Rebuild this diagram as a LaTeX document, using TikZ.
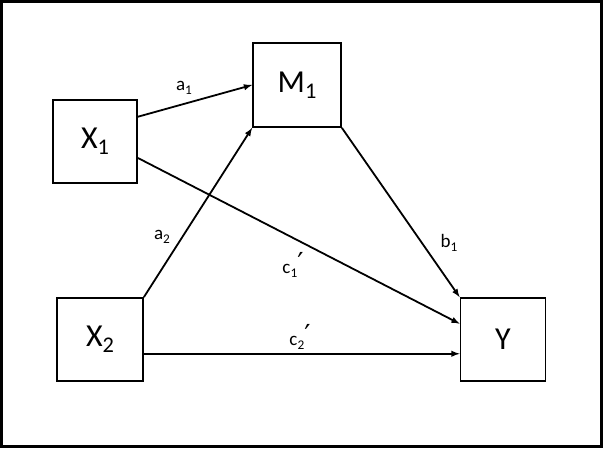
\documentclass[tikz,border=0pt]{standalone}
\usepackage{fontspec}
\setmainfont{Carlito}
\newfontfamily\primefont{DejaVu Sans}
\usepackage{tikz}
\newcommand{\sub}[1]{\raisebox{-0.2em}{\scalebox{0.7}{#1}}}
\newcommand{\prm}{{\primefont\raisebox{0.05em}{\scalebox{1.45}{′}}}}

\begin{document}
\begin{tikzpicture}[x=1pt,y=-1pt,
  var/.style={draw, line width=1.8pt, inner sep=0pt, font=\fontsize{32}{36}\selectfont},
  path/.style={->, >=latex, line width=1.8pt},
  coef/.style={font=\fontsize{19}{22}\selectfont}]
  \draw[line width=2.6pt] (1.3,1.3) rectangle (601.7,446.7);
  \useasboundingbox (0,0) rectangle (604,450);
  \node[var, minimum width=84pt, minimum height=83pt] (x1) at (95,141.5) {X\sub{1}};
  \node[var, minimum width=88pt, minimum height=84pt] (m1) at (297,85) {M\sub{1}};
  \node[var, minimum width=86pt, minimum height=83pt] (x2) at (100,339.5) {X\sub{2}};
  \node[var, minimum width=85pt, minimum height=83pt] (y) at (503,339.5) {Y};
  \node[coef] (a1) at (184,88) {a\sub{1}};
  \node[coef] (a2) at (162,237) {a\sub{2}};
  \node[coef] (b1) at (449,243) {b\sub{1}};
  \node[coef] (c1) at (293,265) {c\sub{1}\prm};
  \node[coef] (c2) at (300,337) {c\sub{2}\prm};
  \draw[path] (x1.30) -- (m1.west);
  \draw[path] (x1.-21) -- (y.160);
  \draw[path] (x2.north east) -- (m1.south west);
  \draw[path] (m1.south east) -- (y.north west);
  \draw[path] (x2.-18.6) -- (x2.-18.6 -| y.west);
\end{tikzpicture}
\end{document}
